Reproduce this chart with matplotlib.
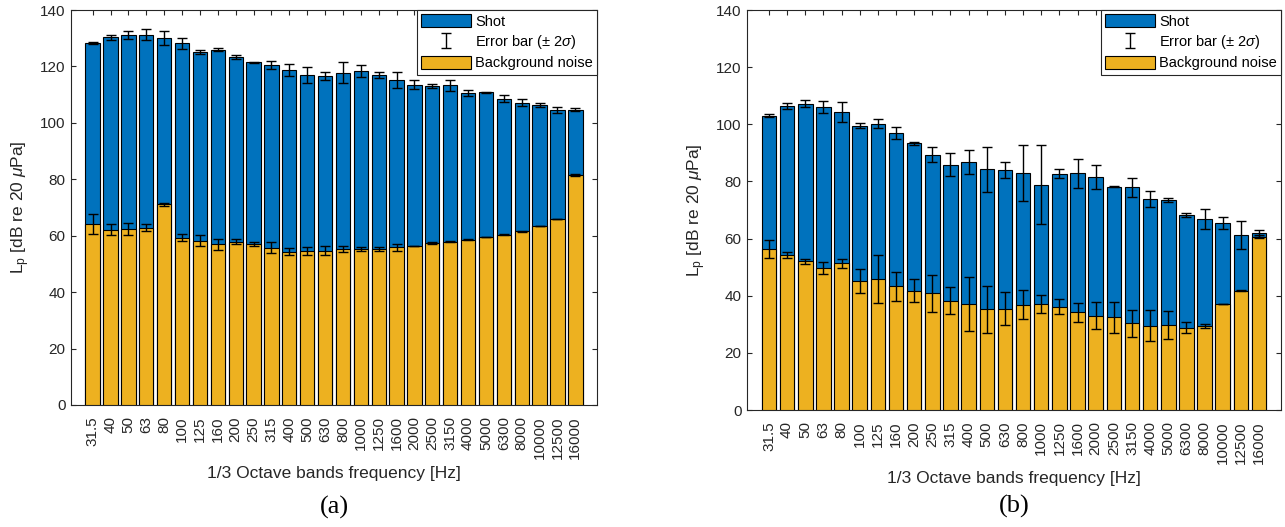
import numpy as np
import matplotlib
matplotlib.use("Agg")
import matplotlib.pyplot as plt

plt.rcParams['font.family'] = ['Liberation Sans', 'DejaVu Sans']
plt.rcParams['mathtext.fontset'] = 'custom'
plt.rcParams['mathtext.rm'] = 'Liberation Sans'
plt.rcParams['mathtext.it'] = 'Liberation Sans:italic'
plt.rcParams['mathtext.sf'] = 'Liberation Sans'

# 1/3 octave band centre frequencies
bands = ['31.5', '40', '50', '63', '80', '100', '125', '160', '200', '250',
         '315', '400', '500', '630', '800', '1000', '1250', '1600', '2000',
         '2500', '3150', '4000', '5000', '6300', '8000', '10000', '12500', '16000']

# panel (a)
shot_a = [128.3, 130.3, 131.1, 131.3, 130.0, 128.2, 125.1, 125.9, 123.5, 121.5,
          120.5, 118.6, 117.0, 116.5, 117.8, 118.3, 116.9, 115.1, 113.5, 113.1,
          113.3, 110.6, 110.9, 108.6, 107.1, 106.4, 104.6, 104.6]
shot_a_err = [0.4, 0.8, 1.4, 1.9, 2.4, 2.0, 0.65, 0.5, 0.7, 0.2,
              1.4, 2.1, 2.7, 1.4, 3.6, 2.1, 1.1, 2.8, 1.6, 0.8,
              1.9, 0.95, 0.2, 1.1, 1.2, 0.7, 1.0, 0.5]
noise_a = [64.2, 62.1, 62.5, 62.9, 71.1, 59.3, 58.3, 56.9, 57.9, 57.1,
           55.7, 54.4, 54.6, 54.6, 55.2, 55.3, 55.3, 55.9, 56.4, 57.3,
           57.9, 58.6, 59.6, 60.4, 61.5, 63.5, 65.9, 81.4]
noise_a_err = [3.6, 1.9, 2.1, 1.2, 0.6, 1.3, 2.0, 2.0, 1.0, 0.8,
               1.9, 1.4, 1.4, 1.6, 1.0, 0.8, 0.8, 1.3, 0.1, 0.4,
               0.3, 0.1, 0.1, 0.1, 0.1, 0.1, 0.1, 0.3]

# panel (b)
shot_b = [103.0, 106.4, 107.2, 106.1, 104.3, 99.5, 100.2, 96.9, 93.3, 89.4,
          85.9, 86.8, 84.3, 84.0, 82.9, 78.9, 82.7, 82.8, 81.6, 78.2,
          77.9, 73.8, 73.4, 68.2, 66.9, 65.4, 61.2, 61.8]
shot_b_err = [0.6, 0.9, 1.2, 2.1, 3.6, 0.8, 1.6, 2.1, 0.5, 2.6,
              4.1, 4.3, 7.9, 2.9, 9.75, 13.7, 1.5, 5.0, 4.1, 0.1,
              3.4, 2.7, 0.7, 0.7, 3.5, 2.2, 4.8, 1.2]
noise_b = [56.3, 54.4, 52.0, 49.6, 51.3, 45.2, 45.8, 43.3, 41.8, 40.8,
           38.3, 37.0, 35.3, 35.5, 36.8, 37.0, 36.2, 34.2, 33.0, 32.5,
           30.4, 29.5, 29.8, 28.8, 29.3, 37.1, 41.7, 60.7]
noise_b_err = [3.1, 1.05, 1.0, 2.1, 1.6, 4.1, 8.3, 5.1, 4.1, 6.6,
               4.8, 9.5, 8.2, 5.8, 5.1, 3.1, 2.7, 3.4, 4.8, 5.4,
               4.7, 5.4, 4.9, 2.0, 0.7, 0.1, 0.2, 0.4]

blue = '#0072BD'
yellow = '#EDB120'
dark = '#262626'

fig = plt.figure(figsize=(12.85, 5.27), dpi=100)
ax_a = fig.add_axes([71 / 1285, 1 - 405 / 527, 526 / 1285, 395 / 527])
ax_b = fig.add_axes([747 / 1285, 1 - 410 / 527, 534 / 1285, 400 / 527])


def draw_panel(ax, shot, shot_err, noise, noise_err):
    x = np.arange(1, len(bands) + 1)
    ekw = dict(fmt='none', ecolor='black', elinewidth=1, capsize=3.3, capthick=1)
    h_shot = ax.bar(x, shot, width=0.8, color=blue, edgecolor='black',
                    linewidth=0.8, zorder=2)
    h_err = ax.errorbar(x, shot, yerr=shot_err, zorder=3, **ekw)
    h_noise = ax.bar(x, noise, width=0.8, color=yellow, edgecolor='black',
                     linewidth=0.8, zorder=4)
    ax.errorbar(x, noise, yerr=noise_err, zorder=5, **ekw)

    ax.set_xlim(1 - 1.21, len(bands) + 1.21)
    ax.set_ylim(0, 140)
    ax.set_yticks(np.arange(0, 141, 20))
    ax.set_xticks(x)
    ax.set_xticklabels(bands, rotation=90)
    ax.tick_params(axis='both', direction='in', top=True, right=True,
                   length=3.5, width=0.8, colors=dark, labelsize=11)
    ax.tick_params(axis='x', pad=8)
    ax.tick_params(axis='y', pad=4)
    for s in ax.spines.values():
        s.set_color(dark)
        s.set_linewidth(0.8)
    ax.set_xlabel('1/3 Octave bands frequency [Hz]', fontsize=12.5, color=dark,
                  labelpad=5)
    ax.set_ylabel(r'L$_\mathrm{p}$ [dB re 20 $\mu$Pa]', fontsize=12.5, color=dark,
                  labelpad=6)

    leg = ax.legend([h_shot, h_err, h_noise],
                    ['Shot', r'Error bar ($\pm$ 2$\sigma$)', 'Background noise'],
                    loc='upper right', borderaxespad=0, fancybox=False,
                    edgecolor=dark, framealpha=1, fontsize=10.5,
                    handlelength=3.4, handleheight=1.0, numpoints=1,
                    borderpad=0.3, labelspacing=0.3, handletextpad=0.3)
    leg.get_frame().set_linewidth(0.8)


draw_panel(ax_a, shot_a, shot_a_err, noise_a, noise_a_err)
draw_panel(ax_b, shot_b, shot_b_err, noise_b, noise_b_err)

fig.text(334 / 1285, 1 - 507 / 527, '(a)', ha='center', va='center',
         fontsize=19, family='Liberation Serif')
fig.text(1014 / 1285, 1 - 506 / 527, '(b)', ha='center', va='center',
         fontsize=19, family='Liberation Serif')

fig.savefig('out.png', dpi=100)
